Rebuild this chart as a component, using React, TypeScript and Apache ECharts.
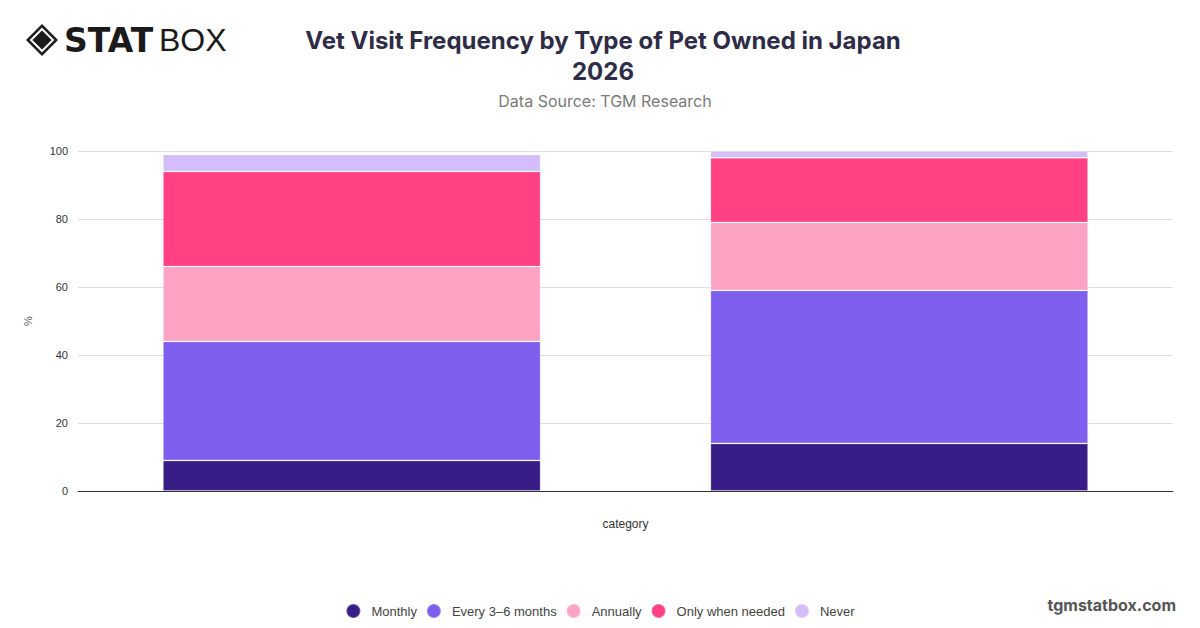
import React, { useEffect, useRef } from "react";
import * as echarts from "echarts";

const categories = ["Dog owners", "Cat owners"];
const seriesNames = ["Monthly", "Every 3–6 months", "Annually", "Only when needed", "Never"];
const monthly = [9, 14];
const every3to6 = [35, 45];
const annually = [22, 20];
const onlyWhenNeeded = [28, 19];
const never = [5, 2];
const colors = ["#391d86", "#7f5fee", "#fda3c3", "#ff4083", "#d5bdf9"];
const yTicks = [0, 20, 40, 60, 80, 100];

const seriesValues = [monthly, every3to6, annually, onlyWhenNeeded, never];

export default function App() {
  const ref = useRef<HTMLDivElement>(null);
  useEffect(() => {
    if (!ref.current) return;
    const chart = echarts.init(ref.current, undefined, { renderer: "svg" });
    chart.setOption({
      animation: false,
      backgroundColor: "#ffffff",
      textStyle: { fontFamily: "'Liberation Sans', Arial, sans-serif" },
      title: [
        {
          text: "Vet Visit Frequency by Type of Pet Owned in Japan\n2026",
          left: 598,
          top: 20,
          textAlign: "center",
          textStyle: { fontSize: 24, fontWeight: "bold", color: "#2e2c46", lineHeight: 31, fontFamily: "Inter, sans-serif" },
        },
        {
          text: "Data Source: TGM Research",
          left: 600,
          top: 88,
          textAlign: "center",
          textStyle: { fontSize: 16, fontWeight: "normal", color: "#7a7a7a", fontFamily: "Inter, sans-serif" },
        },
      ],
      legend: {
        bottom: 4,
        left: "center",
        icon: "circle",
        itemWidth: 14,
        itemHeight: 14,
        itemGap: 9,
        data: seriesNames,
        textStyle: { fontSize: 13, color: "#444", padding: [0, 0, 0, 6], fontFamily: "'Liberation Sans', Arial, sans-serif" },
      },
      grid: { left: 78, right: 27, top: 151, bottom: 137 },
      xAxis: {
        type: "category",
        data: categories,
        name: "category",
        nameLocation: "middle",
        nameGap: 27,
        nameTextStyle: { fontSize: 12, color: "#333" },
        axisLine: { lineStyle: { color: "#333", width: 1 } },
        axisTick: { show: false },
        axisLabel: { show: false },
      },
      yAxis: {
        type: "value",
        min: yTicks[0],
        max: yTicks[yTicks.length - 1],
        interval: 20,
        name: "%",
        nameLocation: "middle",
        nameGap: 45,
        nameTextStyle: { fontSize: 11, color: "#555" },
        axisLabel: { fontSize: 11, color: "#333", margin: 10 },
        splitLine: { lineStyle: { color: "#e0e0e0" } },
        axisLine: { show: false },
        axisTick: { show: false },
      },
      series: seriesNames.map((name, i) => ({
        name,
        type: "bar",
        stack: "total",
        barWidth: "69%",
        data: seriesValues[i],
        itemStyle: { color: colors[i], borderColor: "rgba(255,255,255,0.25)", borderWidth: 1 },
      })),
      graphic: [
        {
          type: "group",
          left: 26,
          top: 24,
          children: [
            { type: "polygon", shape: { points: [[16, 0], [32, 16], [16, 32], [0, 16]] }, style: { fill: "#1a1a1a" } },
            { type: "polygon", shape: { points: [[16, 5], [27, 16], [16, 27], [5, 16]] }, style: { fill: "none", stroke: "#ffffff", lineWidth: 2 } },
            { type: "polygon", shape: { points: [[16, 9], [23, 16], [16, 23], [9, 16]] }, style: { fill: "#1a1a1a" } },
          ],
        },
        {
          type: "text",
          left: 64,
          top: 24,
          style: { text: "STAT", fontSize: 33, fontWeight: 900, fill: "#1a1a1a", fontFamily: "'DejaVu Sans', sans-serif" },
        },
        {
          type: "text",
          left: 159,
          top: 24,
          style: { text: "BOX", fontSize: 32, fontWeight: 300, fill: "#1a1a1a", fontFamily: "'Liberation Sans', sans-serif" },
        },
        {
          type: "text",
          right: 24,
          top: 597,
          style: { text: "tgmstatbox.com", fontSize: 16, fontWeight: "bold", fill: "#555", fontFamily: "Inter, sans-serif" },
        },
      ],
    });
    return () => chart.dispose();
  }, []);
  return <div ref={ref} style={{ width: 1200, height: 628, position: "absolute", left: 0, top: 0 }} />;
}
